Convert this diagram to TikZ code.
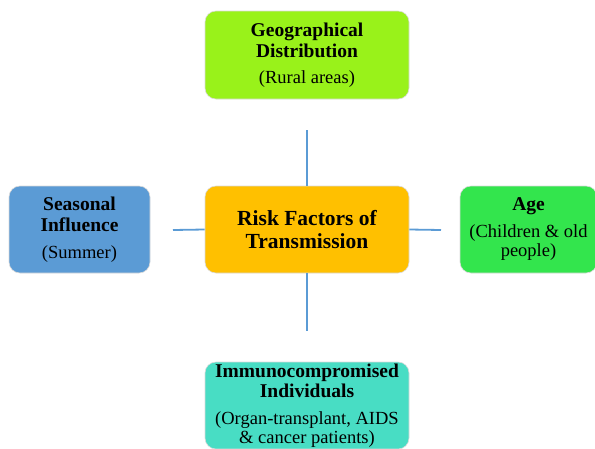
\documentclass[tikz,border=0pt]{standalone}
\usepackage{fontspec}
\setmainfont{Liberation Serif}
\definecolor{cGeo}{RGB}{153,242,26}
\definecolor{cCen}{RGB}{255,192,0}
\definecolor{cSea}{RGB}{91,155,213}
\definecolor{cAge}{RGB}{51,229,77}
\definecolor{cImm}{RGB}{72,221,196}
\definecolor{cLine}{RGB}{91,155,213}
\newcommand{\bt}[1]{{\fontsize{19.5}{19}\selectfont\bfseries #1}}
\newcommand{\nt}[1]{{\fontsize{18.5}{19}\selectfont #1}}
\tikzset{
  box/.style={draw=white!85!black, line width=0.6pt, rounded corners=11pt, align=center, inner sep=0pt, text=black, font=\fontsize{18.5}{19}\selectfont},
  conn/.style={draw=cLine, line width=1.8pt}
}
\begin{document}
\begin{tikzpicture}[x=1pt,y=-1pt]
\useasboundingbox (0,0) rectangle (595,448);
\node[box, fill=cGeo, minimum width=204pt, minimum height=88pt] (geo) at (307,55)
  {\bt{Geographical}\\[2pt]\bt{Distribution}\\[7pt]\nt{(Rural areas)}};
\node[box, fill=cCen, minimum width=204pt, minimum height=87pt, font=\fontsize{21.5}{22}\selectfont\bfseries] (cen) at (307,229.5)
  {Risk Factors of\\[1pt]Transmission};
\node[box, fill=cSea, minimum width=141pt, minimum height=87pt] (sea) at (79.5,229.5)
  {\bt{Seasonal}\\[2pt]\bt{Influence}\\[8pt]\nt{(Summer)}};
\node[box, fill=cAge, minimum width=137pt, minimum height=87pt] (age) at (528.5,229.5)
  {\bt{Age}\\[8pt]\nt{(Children \& old}\\\nt{people)}};
\node[box, fill=cImm, minimum width=204pt, minimum height=87pt] (imm) at (307,405.5)
  {\bt{Immunocompromised}\\[1pt]\bt{Individuals}\\[8pt]\nt{(Organ-transplant, AIDS}\\\nt{\& cancer patients)}};
\coordinate (tEnd) at (307,130);
\coordinate (bEnd) at (307,331);
\coordinate (lEnd) at (173,230);
\coordinate (rEnd) at (441,230);
\draw[conn] (cen.north) -- (tEnd);
\draw[conn] (cen.south) -- (bEnd);
\draw[conn] (cen.west) -- (lEnd);
\draw[conn] (cen.east) -- (rEnd);
\end{tikzpicture}
\end{document}
